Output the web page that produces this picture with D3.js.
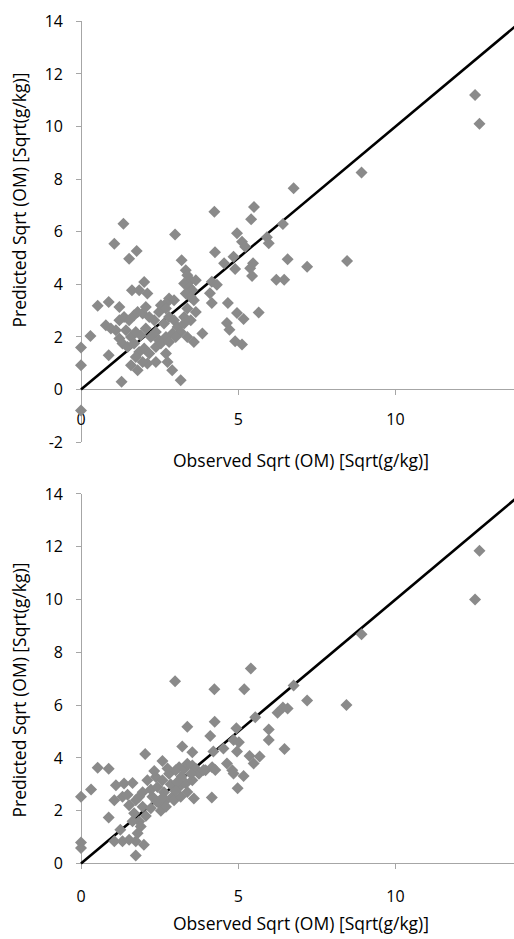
<!DOCTYPE html>
<html><head><meta charset="utf-8">
<script src="https://cdn.jsdelivr.net/npm/d3@7"></script>
<style>body{margin:0;background:#fff}svg{display:block}text{font-family:"Open Sans",sans-serif;fill:#000}</style>
</head><body>
<script>
// Top chart: observed vs predicted
const topObserved = [0,0,0,0.3,0.53,0.88,0.88,1.22,1.06,1.35,1.53,1.77,1.29,1.62,1.85,2.01,2.11,1.59,1.8,2.11,2.38,2.7,2.75,2.9,3.17,2.99,3.2,3.86,3.59,
 3.33,3.38,3.49,3.65,3.28,3.44,3.54,3.33,3.49,3.59,2.8,2.96,2.7,3.38,3.28,
 0.79,0.95,1.11,1.22,1.37,1.53,1.69,1.8,1.96,2.06,2.17,2.33,2.48,2.54,2.7,2.64,2.8,2.96,3.07,3.17,3.28,3.49,3.65,
 1.43,1.59,1.74,1.9,2.06,2.22,2.38,2.48,2.7,2.91,
 1.22,1.32,1.48,1.69,1.85,2.01,2.17,2.38,2.54,2.8,3.01,3.38,1.74,1.96,
 8.92,6.76,4.24,5.5,5.41,6.42,4.96,5.12,5.22,5.91,5.97,4.26,4.85,4.55,6.57,5.47,5.38,5.44,4.9,7.19,8.46,6.21,6.46,4.16,4.32,4.1,4.16,4.67,4.96,5.17,5.65,4.64,4.72,4.9,5.12,
 12.53,12.67];
const topPredicted = [1.6,0.92,-0.8,2.03,3.18,3.33,1.3,3.14,5.54,6.3,4.97,5.27,0.29,3.77,3.77,4.09,3.65,0.92,0.73,0.99,1.05,1.37,1.05,0.73,0.35,5.89,4.91,2.13,1.81,
 4.53,4.34,4.15,4.15,4.03,3.9,3.77,3.65,3.52,3.39,3.46,3.39,3.27,3.08,2.76,
 2.44,2.32,2.25,2.63,2.76,2.63,2.82,2.95,2.89,3.14,2.76,2.63,2.95,3.2,3.08,2.51,2.76,2.63,2.38,2.19,2.51,2.63,2.95,
 2.25,2.0,2.19,2.06,2.32,2.0,2.19,1.87,2.0,2.13,
 1.94,1.75,1.62,1.75,1.43,1.56,1.37,1.62,1.75,1.81,2.0,2.0,1.24,1.05,
 8.25,7.65,6.76,6.94,6.47,6.29,5.94,5.62,5.43,5.79,5.56,5.22,5.05,4.8,4.95,4.8,4.61,4.32,4.58,4.67,4.89,4.17,4.17,4.1,3.98,3.66,3.29,3.29,2.91,2.68,2.93,2.53,2.27,1.83,1.71,
 11.2,10.1];

// Bottom chart: observed vs predicted
const bottomObserved = [0,0,0,0.32,0.53,0.88,0.88,1.25,1.06,1.32,1.53,1.74,2.0,1.74,2.04,2.99,4.24,5.19,5.4,4.25,4.11,3.38,3.22,2.59,3.54,4.94,4.85,5.02,5.54,5.36,5.49,4.16,4.98,5.17,4.81,4.21,4.53,4.17,3.59,
 1.11,1.37,1.64,1.06,1.32,1.53,1.69,1.85,1.9,2.11,2.38,2.59,2.27,2.48,2.7,2.91,
 2.8,3.01,3.12,3.28,3.38,3.54,3.65,3.12,3.33,3.54,3.75,3.96,
 1.85,1.96,2.22,2.54,2.7,2.96,3.17,3.38,
 2.22,2.43,2.64,2.85,3.07,2.33,2.75,1.96,1.74,1.48,2.06,1.64,1.8,3.2,3.5,3.0,2.6,2.4,
 8.92,6.76,7.19,8.44,6.42,6.25,6.57,5.97,5.97,6.47,4.96,5.68,4.64,4.27,3.9,4.85,
 12.67,12.53];
const bottomPredicted = [2.53,0.8,0.59,2.8,3.63,3.59,1.74,1.28,0.84,0.84,0.9,0.84,0.71,0.3,4.15,6.9,6.6,6.6,7.39,5.37,4.83,5.18,4.43,3.88,4.21,5.12,4.68,4.59,5.54,4.07,3.79,2.5,2.85,3.31,3.53,4.24,4.36,3.65,2.46,
 2.96,3.03,3.05,2.4,2.53,2.21,1.9,1.59,1.4,3.15,3.28,3.15,2.53,2.28,2.4,2.53,
 3.4,3.53,3.65,3.59,3.78,3.71,3.59,2.9,3.03,3.15,3.4,3.53,
 2.53,2.15,2.09,2.0,2.15,2.4,2.53,2.71,
 2.8,2.9,2.7,3.0,3.1,3.5,3.6,2.7,2.4,2.6,1.8,1.6,1.15,3.3,3.4,2.75,2.5,2.35,
 8.68,6.74,6.17,6.0,5.91,5.71,5.87,5.08,4.68,4.34,4.24,4.05,3.79,3.54,3.54,3.41,
 11.85,10.0];

const xTicks = [0,5,10];
const yTicksTop = [-2,0,2,4,6,8,10,12,14];
const yTicksBottom = [0,2,4,6,8,10,12,14];
const xTitle = "Observed Sqrt (OM) [Sqrt(g/kg)]";
const yTitle = "Predicted Sqrt (OM) [Sqrt(g/kg)]";

const W = 514, H = 939;
const svg = d3.select("body").append("svg").attr("width", W).attr("height", H);
const axisColor = "#a6a6a6", pointColor = "#8a8a8a";
const tickFont = 16, titleFont = 17.5;

function chart(cfg) {
  const x = d3.scaleLinear().domain([0,14]).range([81, 81 + 14*31.45]);
  const y = d3.scaleLinear().domain(cfg.yDomain).range(cfg.yRange);
  const g = svg.append("g");
  g.append("line").attr("x1", x(0)).attr("x2", x(0)).attr("y1", y(cfg.yDomain[0])).attr("y2", y(cfg.yDomain[1]))
    .attr("stroke", axisColor).attr("stroke-width", 1).attr("shape-rendering","crispEdges");
  cfg.yTicks.forEach(t => {
    g.append("line").attr("x1", x(0)-5).attr("x2", x(0)).attr("y1", y(t)).attr("y2", y(t))
      .attr("stroke", axisColor).attr("shape-rendering","crispEdges");
    g.append("text").attr("x", 63).attr("y", y(t)).attr("dy","0.35em").attr("text-anchor","end")
      .attr("font-size", tickFont).text(t);
  });
  g.append("line").attr("x1", x(0)).attr("x2", W).attr("y1", y(0)).attr("y2", y(0))
    .attr("stroke", axisColor).attr("shape-rendering","crispEdges");
  xTicks.forEach(t => {
    g.append("line").attr("x1", x(t)).attr("x2", x(t)).attr("y1", y(0)).attr("y2", y(0)+5)
      .attr("stroke", axisColor).attr("shape-rendering","crispEdges");
    g.append("text").attr("x", x(t)).attr("y", cfg.xLabelY).attr("dy","0.35em").attr("text-anchor","middle")
      .attr("font-size", tickFont).text(t);
  });
  g.append("text").attr("x", 301).attr("y", cfg.xTitleY).attr("dy","0.35em").attr("text-anchor","middle")
    .attr("font-size", titleFont).text(xTitle);
  g.append("text").attr("transform", `translate(20,${cfg.yTitleY}) rotate(-90)`).attr("dy","0.35em")
    .attr("text-anchor","middle").attr("font-size", titleFont).text(yTitle);
  g.append("line").attr("x1", x(0)).attr("y1", y(0)).attr("x2", x(14)).attr("y2", y(14))
    .attr("stroke", "#000").attr("stroke-width", 2.6);
  const pts = cfg.obs.map((o,i) => [o, cfg.pred[i]]);
  g.selectAll("path.pt").data(pts).join("path").attr("class","pt")
    .attr("transform", d => `translate(${x(d[0])},${y(d[1])})`)
    .attr("d", "M0,-6L6,0L0,6L-6,0Z").attr("fill", pointColor);
}

chart({obs: topObserved, pred: topPredicted, yDomain: [-2,14], yRange: [389.5 + 2*26.3, 389.5 - 14*26.3],
       yTicks: yTicksTop, xLabelY: 419, xTitleY: 461, yTitleY: 200});
chart({obs: bottomObserved, pred: bottomPredicted, yDomain: [0,14], yRange: [863.5, 863.5 - 14*26.4],
       yTicks: yTicksBottom, xLabelY: 896, xTitleY: 924, yTitleY: 690});
</script>
</body></html>
